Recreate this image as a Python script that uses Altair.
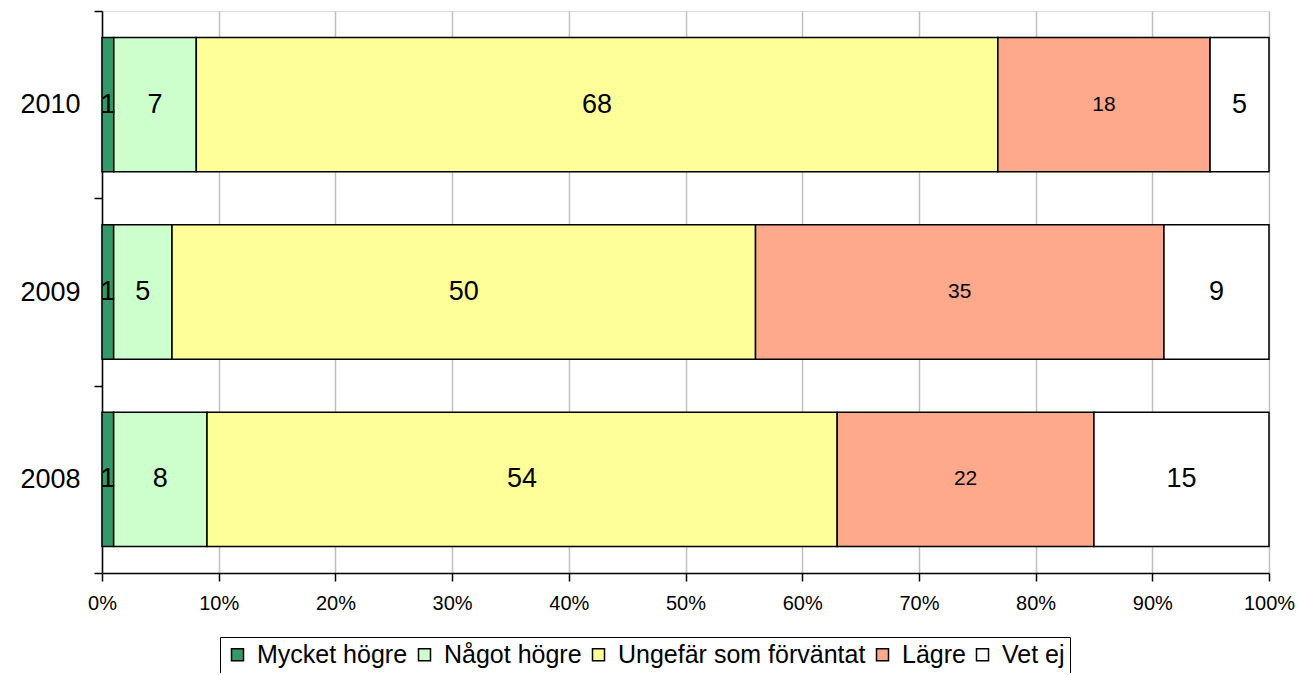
import altair as alt
import pandas as pd

years = ["2010", "2009", "2008"]
categories = ["Mycket högre", "Något högre", "Ungefär som förväntat", "Lägre", "Vet ej"]
colors = ["#339966", "#CCFFCC", "#FFFF99", "#FFA98C", "#FFFFFF"]
values_2010 = [1, 7, 68, 18, 5]
values_2009 = [1, 5, 50, 35, 9]
values_2008 = [1, 8, 54, 22, 15]
x_ticks = [0, 0.1, 0.2, 0.3, 0.4, 0.5, 0.6, 0.7, 0.8, 0.9, 1.0]

rows = []
for y, vals in zip(years, [values_2010, values_2009, values_2008]):
    for i, (c, v) in enumerate(zip(categories, vals)):
        rows.append({"year": y, "cat": c, "value": v, "ord": i})
df = pd.DataFrame(rows)

base = alt.Chart(df).transform_stack(
    stack="value", groupby=["year"], as_=["s0", "s1"], offset="normalize",
    sort=[alt.SortField("ord", order="ascending")]
).transform_calculate(mid="(datum.s0 + datum.s1) / 2")

yenc = alt.Y("year:N", sort=years, title=None,
             scale=alt.Scale(paddingInner=0, paddingOuter=0),
             axis=alt.Axis(tickBand="extent", tickSize=8, tickColor="black", tickWidth=1.5,
                           domainColor="black", domainWidth=1.5, labelFontSize=27,
                           labelFont="Liberation Sans", labelColor="black", labelPadding=14,
                           grid=False))

bars = base.mark_bar(stroke="black", strokeWidth=1.5,
                     height=alt.RelativeBandSize(0.717)).encode(
    x=alt.X("s0:Q", title=None,
            scale=alt.Scale(domain=[0, 1], nice=False),
            axis=alt.Axis(values=x_ticks, format=".0%", tickSize=8, tickColor="black",
                          tickWidth=1.5, domainColor="black", domainWidth=1.5,
                          labelFontSize=20, labelFont="Liberation Sans", labelColor="black",
                          labelPadding=12, labelFlush=False,
                          grid=True, gridColor="#C0C0C0", gridWidth=1.5)),
    x2="s1:Q",
    y=yenc,
    fill=alt.Fill("cat:N", scale=alt.Scale(domain=categories, range=colors),
                  legend=alt.Legend(title=None, orient="none", legendX=118, legendY=626,
                                    direction="horizontal", symbolType="square",
                                    symbolSize=144, symbolStrokeColor="black",
                                    symbolStrokeWidth=1.5, labelFontSize=25,
                                    labelFont="Liberation Sans", labelColor="black",
                                    labelLimit=0, labelOffset=7, columnPadding=4,
                                    strokeColor="black", padding=5, cornerRadius=0)),
    order=alt.Order("ord:Q"),
)

labels = base.mark_text(font="Liberation Sans", color="black", baseline="middle", align="center").encode(
    x="mid:Q",
    y=alt.Y("year:N", sort=years),
    text="value:Q",
    size=alt.condition(alt.datum.cat == "Lägre", alt.value(21), alt.value(27)),
)

chart = alt.layer(bars, labels).properties(
    width=1167, height=562,
    autosize=alt.AutoSizeParams(type="none"),
    padding={"left": 94, "top": 3, "right": 26, "bottom": 100},
).configure_view(stroke=None).configure(background="white")

chart.save("out.html", embed_options={"renderer": "svg", "actions": False})
